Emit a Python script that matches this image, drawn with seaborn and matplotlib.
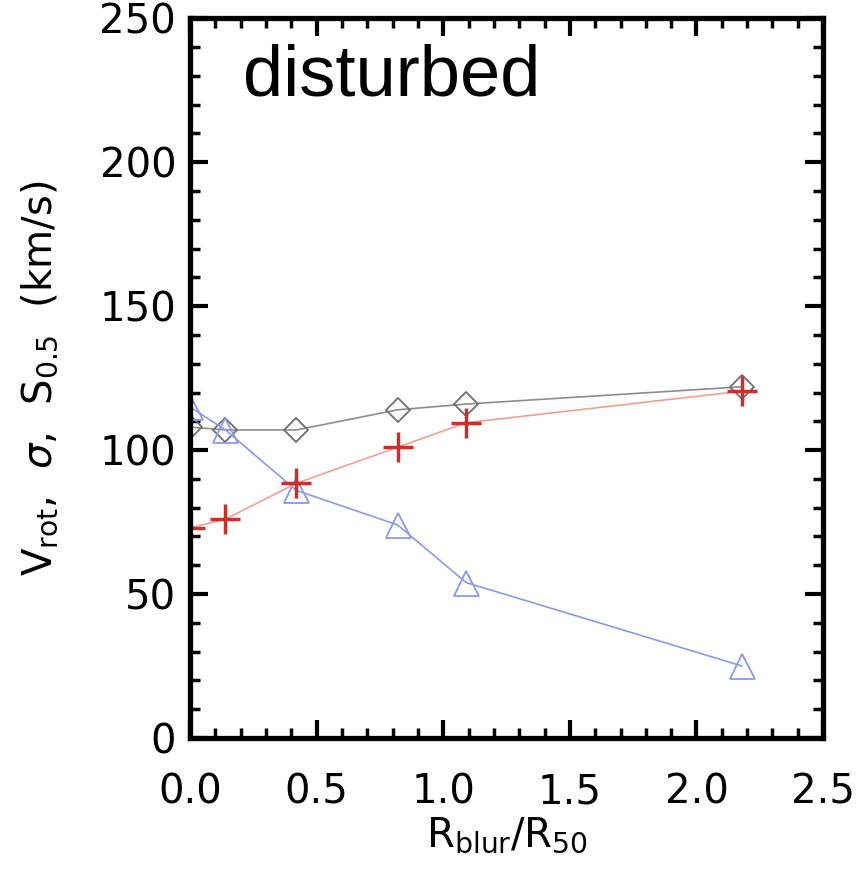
import matplotlib
matplotlib.use("Agg")
import matplotlib.pyplot as plt
import seaborn as sns
import pandas as pd
from matplotlib.ticker import MultipleLocator, FormatStrFormatter

r_blur = [0.0, 0.14, 0.42, 0.82, 1.09, 2.18]
s05 = [108, 107, 107, 114, 116, 122]
sigma = [115, 107, 86, 74, 54, 25]
vrot = [73, 76, 88.5, 101, 109.5, 120.5]

sns.set_style("ticks")
plt.rcParams['font.family'] = ['DejaVu Sans']
plt.rcParams['text.color'] = 'black'
plt.rcParams['axes.labelcolor'] = 'black'
plt.rcParams['xtick.color'] = 'black'
plt.rcParams['ytick.color'] = 'black'
plt.rcParams['mathtext.fontset'] = 'custom'
plt.rcParams['mathtext.rm'] = 'DejaVu Sans'
plt.rcParams['mathtext.it'] = 'DejaVu Sans:italic'

fig = plt.figure(figsize=(8.61, 8.72), dpi=100)
ax = fig.add_axes([0.2207, 0.1537, 0.7353, 0.8253])

df = pd.DataFrame({"r": r_blur, "s05": s05, "sigma": sigma, "vrot": vrot})

sns.lineplot(data=df, x="r", y="s05", ax=ax, color="#8c8c8c", lw=1.2,
             marker="D", markersize=12.5, markerfacecolor="none",
             markeredgecolor="#707070", markeredgewidth=1.3)
sns.lineplot(data=df, x="r", y="sigma", ax=ax, color="#8a9ae8", lw=1.2,
             marker="^", markersize=18, markerfacecolor="none",
             markeredgecolor="#8a9ae8", markeredgewidth=1.3)
sns.lineplot(data=df, x="r", y="vrot", ax=ax, color="#f0a090", lw=1.2,
             marker="+", markersize=22, markeredgecolor="#c8302a",
             markeredgewidth=2.5)

ax.set_xlim(0, 2.5)
ax.set_ylim(0, 250)
ax.xaxis.set_major_locator(MultipleLocator(0.5))
ax.xaxis.set_minor_locator(MultipleLocator(0.1))
ax.yaxis.set_major_locator(MultipleLocator(50))
ax.yaxis.set_minor_locator(MultipleLocator(10))
ax.xaxis.set_major_formatter(FormatStrFormatter('%.1f'))

for s in ax.spines.values():
    s.set_linewidth(3.8)
    s.set_color("black")
    s.set_visible(True)

ax.tick_params(which="both", direction="in", top=True, right=True,
               color="black", labelsize=29, labelcolor="black")
ax.tick_params(axis="x", which="major", pad=25)
ax.tick_params(axis="y", which="major", pad=10)
ax.tick_params(which="major", length=13, width=3)
ax.tick_params(which="minor", length=7, width=2.5)

ax.set_xlabel(r"R$_{\rm blur}$/R$_{\rm 50}$", fontsize=29, labelpad=2)
ax.set_ylabel(r"V$_{\rm rot}$,  $\sigma$,  S$_{\rm 0.5}$  (km/s)", fontsize=29, labelpad=28)

ax.text(0.083, 0.965, "disturbed", transform=ax.transAxes, fontsize=52,
        va="top", ha="left", family=["Liberation Sans", "DejaVu Sans"])

fig.savefig("out.png", dpi=100)
